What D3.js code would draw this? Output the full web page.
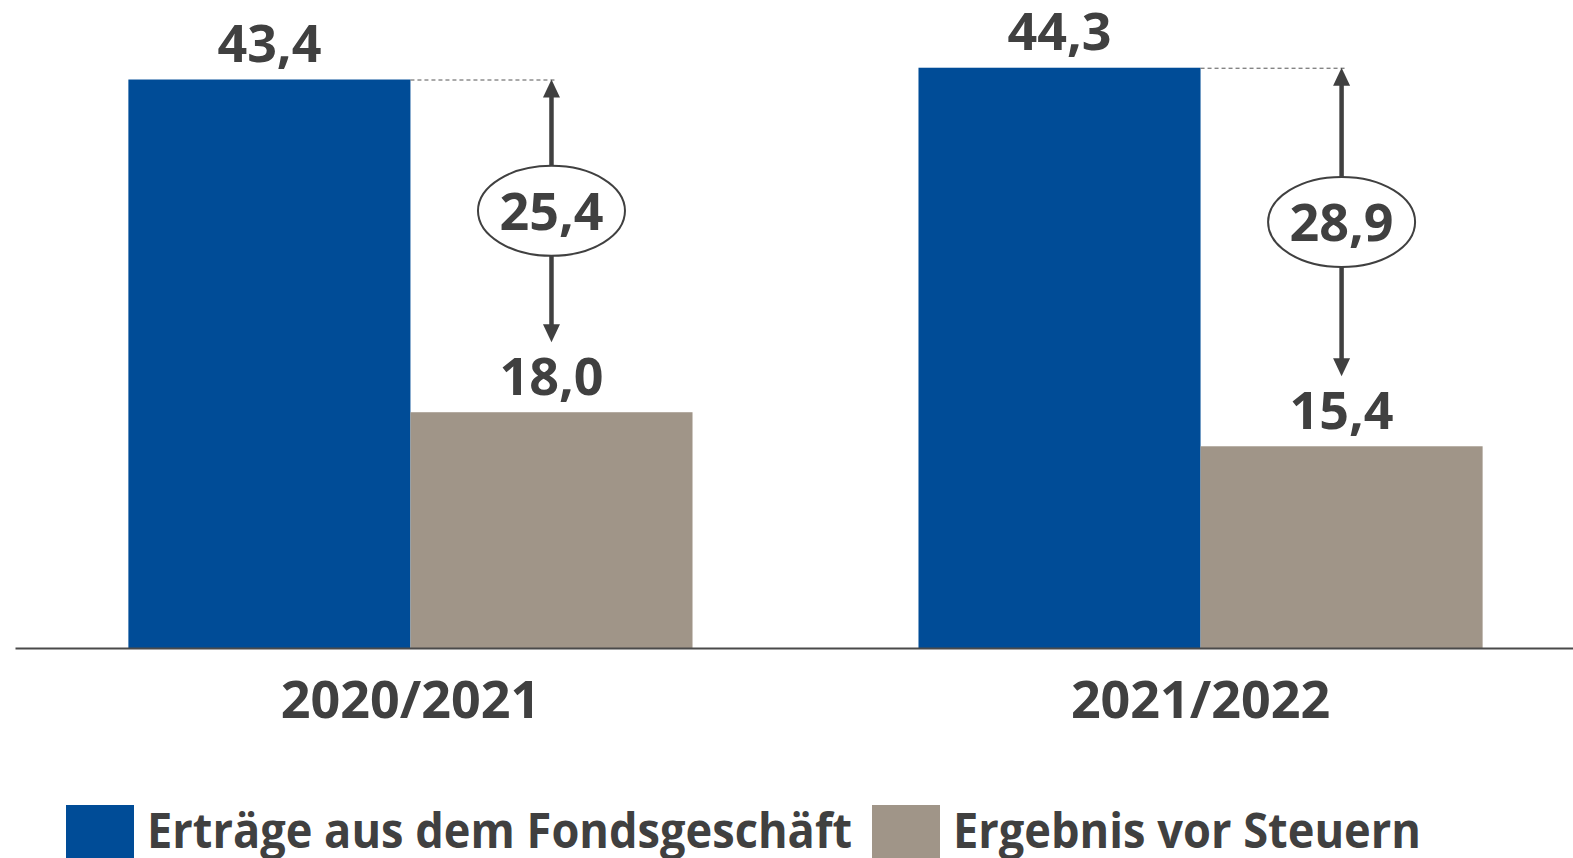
<!DOCTYPE html>
<html>
<head>
<meta charset="utf-8">
<script src="https://cdn.jsdelivr.net/npm/d3@7"></script>
<style>
  body { margin: 0; background: #fff; }
  svg { display: block; font-family: "Open Sans", sans-serif; }
</style>
</head>
<body>
<div id="chart"></div>
<script>
// data
const categories = ["2020/2021", "2021/2022"];
const seriesNames = ["Erträge aus dem Fondsgeschäft", "Ergebnis vor Steuern"];
const ertraege = [43.4, 44.3];
const ergebnis = [18.0, 15.4];
const differenz = [25.4, 28.9];

const colors = ["#004c97", "#a09588"];
const textColor = "#404040";

const W = 1573, H = 858;
const baseY = 648;

const svg = d3.select("#chart")
    .append("svg")
    .attr("width", W)
    .attr("height", H);

const fmt = v => d3.format(".1f")(v).replace(".", ",");

const x0 = d3.scaleBand()
    .domain(categories)
    .range([15, 1596])
    .paddingInner(0.286)
    .paddingOuter(0.1435);

const x1 = d3.scaleBand()
    .domain(seriesNames)
    .range([0, x0.bandwidth()]);

const y = d3.scaleLinear()
    .domain([0, 49.47])
    .range([baseY, 0]);

const rows = categories.map((c, i) => ({
    cat: c,
    vals: [ertraege[i], ergebnis[i]],
    diff: differenz[i]
}));

// Bars
const groups = svg.selectAll(".group")
    .data(rows)
    .enter()
    .append("g")
    .attr("transform", d => `translate(${x0(d.cat)},0)`);

groups.selectAll("rect")
    .data(d => d.vals.map((v, j) => ({ key: seriesNames[j], v, j })))
    .enter()
    .append("rect")
    .attr("x", d => x1(d.key))
    .attr("y", d => y(d.v))
    .attr("width", x1.bandwidth())
    .attr("height", d => y(0) - y(d.v))
    .attr("fill", d => colors[d.j]);

// Value labels
groups.selectAll(".val")
    .data(d => d.vals.map((v, j) => ({ key: seriesNames[j], v })))
    .enter()
    .append("text")
    .attr("class", "val")
    .attr("x", d => x1(d.key) + x1.bandwidth() / 2)
    .attr("y", d => y(d.v) - 17.5)
    .attr("text-anchor", "middle")
    .style("font-size", "52px")
    .style("font-weight", "700")
    .style("fill", textColor)
    .text(d => fmt(d.v));

// Difference arrows
groups.each(function (d) {
    const g = d3.select(this);
    const ax = x1(seriesNames[1]) + x1.bandwidth() / 2;
    const top = y(d.vals[0]);
    const tip = y(d.vals[1]) - 70;
    const mid = (top + tip) / 2;
    const headL = 18, headW = 8.5;

    g.append("line")
        .attr("x1", x1(seriesNames[0]) + x1.bandwidth())
        .attr("x2", ax + 4)
        .attr("y1", top + 0.5)
        .attr("y2", top + 0.5)
        .attr("stroke", "#555")
        .attr("stroke-width", 1)
        .attr("stroke-dasharray", "4,3");

    g.append("line")
        .attr("x1", ax).attr("x2", ax)
        .attr("y1", top + headL - 1)
        .attr("y2", tip - headL + 1)
        .attr("stroke", textColor)
        .attr("stroke-width", 4.5);

    g.append("path")
        .attr("d", `M${ax},${top} L${ax + headW},${top + headL} L${ax - headW},${top + headL} Z`)
        .attr("fill", textColor);

    g.append("path")
        .attr("d", `M${ax},${tip} L${ax + headW},${tip - headL} L${ax - headW},${tip - headL} Z`)
        .attr("fill", textColor);

    g.append("ellipse")
        .attr("cx", ax)
        .attr("cy", mid)
        .attr("rx", 73.5)
        .attr("ry", 45)
        .attr("fill", "#fff")
        .attr("stroke", textColor)
        .attr("stroke-width", 2);

    g.append("text")
        .attr("x", ax)
        .attr("y", mid)
        .attr("dy", "0.36em")
        .attr("text-anchor", "middle")
        .style("font-size", "52px")
        .style("font-weight", "700")
        .style("fill", textColor)
        .text(fmt(d.diff));
});

// Axis
const axis = svg.append("g")
    .attr("transform", `translate(0,${baseY})`)
    .call(d3.axisBottom(x0).tickSize(0).tickPadding(33));

axis.select(".domain")
    .attr("stroke", "#4a4a4a")
    .attr("stroke-width", 2);

axis.selectAll("text")
    .style("font-family", "'Open Sans', sans-serif")
    .style("font-size", "52px")
    .style("font-weight", "700")
    .style("fill", textColor);

// Legend
const legendX = [66, 872];
const legendW = [705, 468];
const legend = svg.selectAll(".legend")
    .data(seriesNames)
    .enter()
    .append("g")
    .attr("transform", (d, i) => `translate(${legendX[i]},805)`);

legend.append("rect")
    .attr("width", 68)
    .attr("height", 60)
    .attr("fill", (d, i) => colors[i]);

legend.append("text")
    .attr("x", 81)
    .attr("y", 43)
    .attr("textLength", (d, i) => legendW[i])
    .attr("lengthAdjust", "spacingAndGlyphs")
    .style("font-size", "48px")
    .style("font-weight", "700")
    .style("fill", textColor)
    .text(d => d);
</script>
</body>
</html>
